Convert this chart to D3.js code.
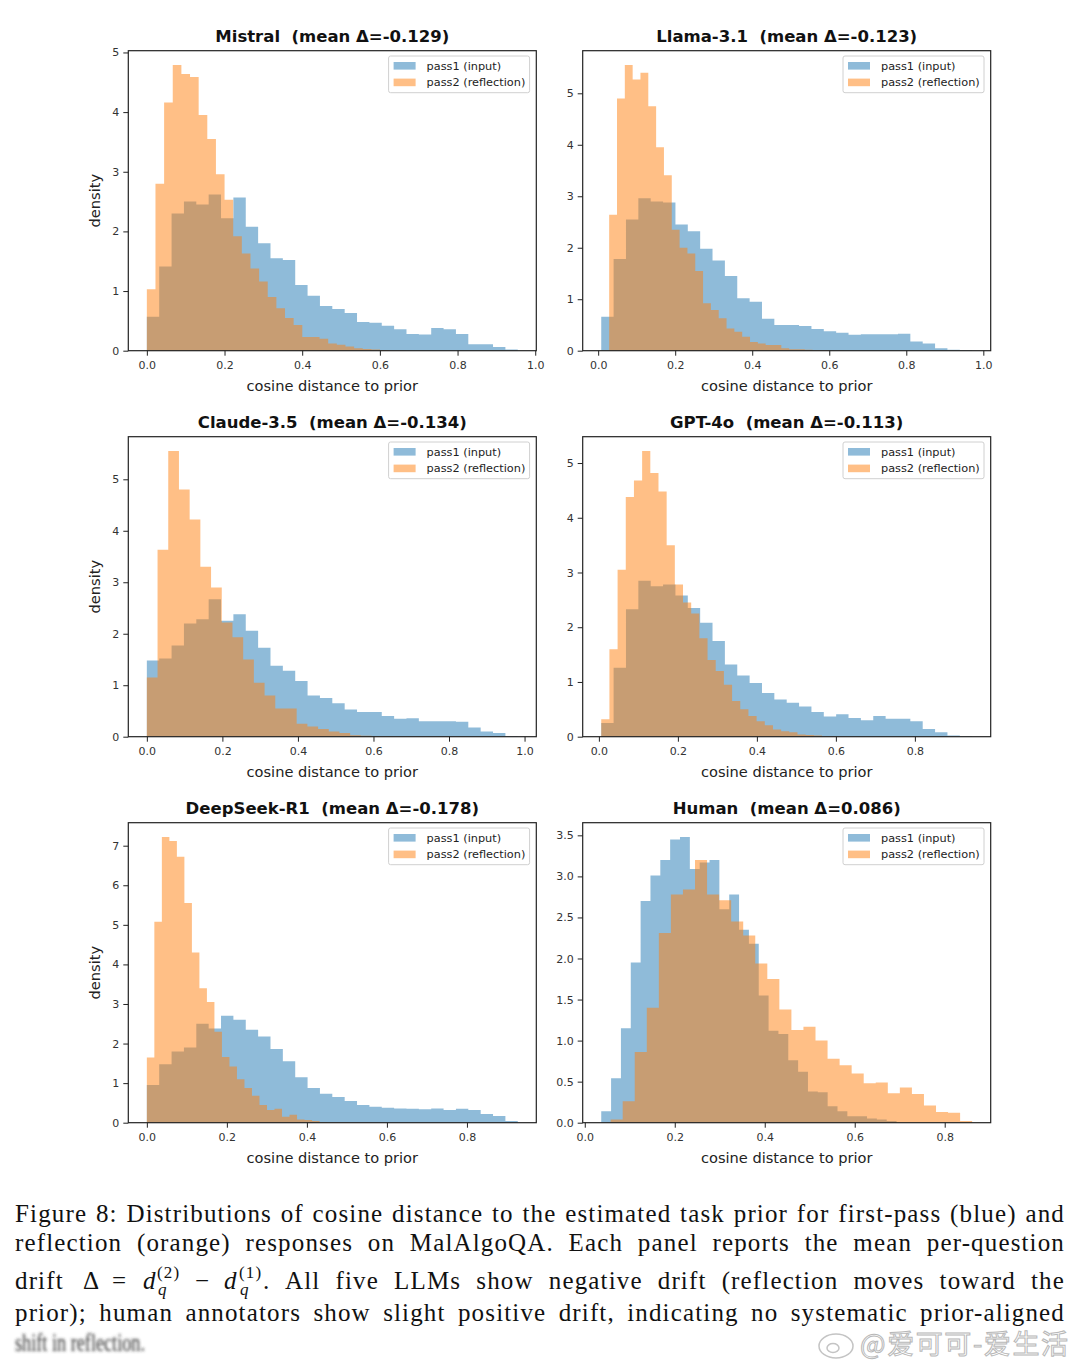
<!DOCTYPE html>
<html>
<head>
<meta charset="utf-8">
<script src="https://cdn.jsdelivr.net/npm/d3@7"></script>
<style>
  html, body { margin: 0; padding: 0; background: #fff; }
  svg { display: block; }
</style>
</head>
<body>
<svg id="fig" width="1080" height="1368"></svg>
<script>
// ---- data ----
var models = ["Mistral", "Llama-3.1", "Claude-3.5", "GPT-4o", "DeepSeek-R1", "Human"];
var meanDelta = ["-0.129", "-0.123", "-0.134", "-0.113", "-0.178", "0.086"];
var seriesNames = ["pass1 (input)", "pass2 (reflection)"];

// [first bin edge, last bin edge] of each histogram (30 bins)
var pass1Range = [[0.0, 0.955], [0.008, 0.971], [0.0, 0.982], [0.006, 0.945], [0.0, 0.927], [0.0366, 0.693]];
var pass2Range = [[0.0, 0.667], [0.0286, 0.638], [0.0, 0.85], [0.006, 0.627], [0.0, 0.563], [0.0575, 0.861]];

var pass1Density = [
  [0.57,1.41,2.30,2.50,2.45,2.62,2.22,2.57,2.08,1.80,1.55,1.52,1.10,0.92,0.75,0.70,0.63,0.48,0.47,0.42,0.36,0.28,0.27,0.38,0.36,0.28,0.11,0.11,0.06,0.02],
  [0.66,1.78,2.55,2.96,2.90,2.88,2.45,2.32,1.98,1.75,1.45,1.02,0.95,0.62,0.50,0.50,0.48,0.42,0.38,0.35,0.31,0.32,0.32,0.32,0.33,0.18,0.14,0.05,0.02,0.01],
  [1.48,1.52,1.77,2.20,2.28,2.67,2.25,2.38,2.06,1.73,1.38,1.28,1.08,0.80,0.75,0.65,0.53,0.48,0.48,0.40,0.35,0.36,0.30,0.30,0.30,0.29,0.18,0.10,0.07,0.01],
  [0.25,1.26,2.33,2.85,2.75,2.78,2.58,2.35,2.08,1.75,1.32,1.12,0.98,0.80,0.68,0.62,0.55,0.45,0.37,0.41,0.34,0.30,0.38,0.33,0.33,0.28,0.14,0.08,0.02,0.01],
  [0.95,1.48,1.80,1.90,2.50,2.38,2.70,2.60,2.35,2.18,1.86,1.55,1.15,0.88,0.73,0.65,0.55,0.45,0.40,0.38,0.36,0.35,0.34,0.36,0.32,0.35,0.32,0.22,0.17,0.04],
  [0.14,0.54,1.15,1.95,2.70,3.01,3.20,3.45,3.48,3.09,3.17,3.20,2.60,2.78,2.35,2.18,1.55,1.12,1.08,0.76,0.62,0.38,0.37,0.20,0.14,0.08,0.08,0.05,0.04,0.02]
];
var pass2Density = [
  [1.03,2.80,4.16,4.79,4.64,4.59,3.95,3.55,2.96,2.53,1.92,1.63,1.38,1.16,0.90,0.71,0.55,0.43,0.23,0.23,0.20,0.12,0.10,0.07,0.04,0.03,0.02,0.01,0.005,0.005],
  [2.64,4.90,5.55,5.27,5.40,4.75,3.95,3.41,2.35,2.00,1.89,1.55,0.92,0.79,0.63,0.43,0.37,0.27,0.17,0.14,0.11,0.11,0.05,0.03,0.03,0.02,0.01,0.01,0.005,0.005],
  [1.15,3.63,5.55,4.80,4.22,3.30,2.90,2.22,1.93,1.50,1.05,0.80,0.55,0.55,0.25,0.20,0.15,0.10,0.07,0.03,0.02,0.01,0.01,0.005,0.005,0.005,0.003,0.003,0.003,0.005],
  [0.32,1.60,3.05,4.38,4.68,5.22,4.82,4.48,3.50,2.78,2.45,2.25,1.80,1.40,1.20,0.95,0.65,0.50,0.38,0.28,0.21,0.13,0.10,0.08,0.04,0.03,0.02,0.01,0.01,0.005],
  [1.65,5.08,7.22,7.12,6.72,5.55,4.30,3.40,3.05,2.30,1.66,1.42,1.10,0.88,0.68,0.45,0.32,0.35,0.15,0.20,0.08,0.07,0.04,0.02,0.01,0.01,0.01,0.005,0.005,0.005],
  [0.04,0.26,0.86,1.40,2.31,2.78,2.84,3.20,2.78,2.71,2.45,2.28,1.94,1.75,1.38,1.13,1.17,1.00,0.78,0.70,0.60,0.48,0.49,0.36,0.43,0.35,0.21,0.13,0.12,0.02]
];

var xTickValues = [0, 0.2, 0.4, 0.6, 0.8, 1.0];
var yTickStep = [1, 1, 1, 1, 1, 0.5];

var captionLines = [
  "Figure 8: Distributions of cosine distance to the estimated task prior for first-pass (blue) and",
  "reflection (orange) responses on MalAlgoQA. Each panel reports the mean per-question",
  "All five LLMs show negative drift (reflection moves toward the",
  "prior); human annotators show slight positive drift, indicating no systematic prior-aligned",
  "shift in reflection."
];

// ---- layout ----
var colX = [128.3, 582.7];
var rowY = [50.7, 436.7, 822.7];
var aw = 408, ah = 300;
var colors = ["#1f77b4", "#ff7f0e"];
var sans = "'DejaVu Sans', sans-serif";
var serif = "'Liberation Serif', 'DejaVu Serif', serif";

var svg = d3.select("#fig");

models.forEach(function(name, i) {
    var col = i % 2, row = Math.floor(i / 2);
    var g = svg.append("g").attr("transform", "translate(" + colX[col] + "," + rowY[row] + ")");

    var ranges = [pass1Range[i], pass2Range[i]];
    var dens = [pass1Density[i], pass2Density[i]];
    var lo = d3.min(ranges, function(r) { return r[0]; });
    var hi = d3.max(ranges, function(r) { return r[1]; });
    var pad = 0.05 * (hi - lo);
    var x = d3.scaleLinear().domain([lo - pad, hi + pad]).range([0, aw]);
    var ymax = 1.05 * d3.max(dens.map(function(d) { return d3.max(d); }));
    var y = d3.scaleLinear().domain([0, ymax]).range([ah, 0]);

    // histograms as step areas (blue first, orange on top)
    var area = d3.area()
        .curve(d3.curveStepAfter)
        .x(function(d) { return x(d[0]); })
        .y0(y(0))
        .y1(function(d) { return y(d[1]); });

    [0, 1].forEach(function(s) {
        var r = ranges[s], vals = dens[s];
        var w = (r[1] - r[0]) / vals.length;
        var pts = vals.map(function(v, k) { return [r[0] + k * w, v]; });
        pts.push([r[1], vals[vals.length - 1]]);
        g.append("path")
            .datum(pts)
            .attr("fill", colors[s])
            .attr("fill-opacity", 0.5)
            .attr("d", area);
    });

    // axes
    var xt = xTickValues.filter(function(t) { return t >= x.domain()[0] && t <= x.domain()[1]; });
    var xAxis = g.append("g")
        .attr("transform", "translate(0," + ah + ")")
        .call(d3.axisBottom(x).tickValues(xt).tickFormat(d3.format(".1f"))
            .tickSizeInner(5).tickSizeOuter(0).tickPadding(6));

    var step = yTickStep[i];
    var yt = d3.range(0, ymax + 1e-9, step);
    var yAxis = g.append("g")
        .call(d3.axisLeft(y).tickValues(yt).tickFormat(d3.format(step < 1 ? ".1f" : "d"))
            .tickSizeInner(5).tickSizeOuter(0).tickPadding(4));

    [xAxis, yAxis].forEach(function(a) {
        a.select(".domain").remove();
        a.selectAll("line").attr("stroke", "#222").attr("stroke-width", 1);
        a.selectAll("text")
            .attr("font-family", sans)
            .attr("font-size", 11)
            .attr("fill", "#333");
    });

    // frame
    g.append("rect")
        .attr("width", aw).attr("height", ah)
        .attr("fill", "none")
        .attr("stroke", "#222")
        .attr("stroke-width", 1.2);

    // title
    g.append("text")
        .attr("x", aw / 2).attr("y", -9)
        .attr("text-anchor", "middle")
        .attr("font-family", sans)
        .attr("font-weight", "bold")
        .attr("font-size", 16.5)
        .attr("fill", "#111")
        .style("white-space", "pre")
        .text(name + "  (mean \u0394=" + meanDelta[i] + ")");

    // x label
    g.append("text")
        .attr("x", aw / 2).attr("y", ah + 40)
        .attr("text-anchor", "middle")
        .attr("font-family", sans)
        .attr("font-size", 14.6)
        .attr("fill", "#222")
        .text("cosine distance to prior");

    if (col === 0) {
        g.append("text")
            .attr("transform", "translate(-28," + (ah / 2) + ") rotate(-90)")
            .attr("text-anchor", "middle")
            .attr("font-family", sans)
            .attr("font-size", 14.6)
            .attr("fill", "#222")
            .text("density");
    }

    // legend
    var lg = g.append("g").attr("transform", "translate(" + (aw - 147.7) + ",5.3)");
    lg.append("rect")
        .attr("width", 141).attr("height", 36.7)
        .attr("rx", 2)
        .attr("fill", "#fff").attr("fill-opacity", 0.8)
        .attr("stroke", "#d0d0d0").attr("stroke-width", 1);
    seriesNames.forEach(function(sn, s) {
        lg.append("rect")
            .attr("x", 5).attr("y", 6 + s * 16.6)
            .attr("width", 22).attr("height", 7.6)
            .attr("fill", colors[s]).attr("fill-opacity", 0.5);
        lg.append("text")
            .attr("x", 38).attr("y", 13.8 + s * 16.6)
            .attr("font-family", sans)
            .attr("font-size", 11.3)
            .attr("fill", "#222")
            .text(sn);
    });
});

// ---- caption ----
var capSize = 25;
var left = 15, right = 1065;

function capText(str, x0, yb) {
    return svg.append("text")
        .attr("x", x0).attr("y", yb)
        .attr("font-family", serif)
        .attr("font-size", capSize)
        .attr("fill", "#111")
        .text(str);
}

// letter spacing taken from the fullest line, word spacing fills the rest
var probe = capText(captionLines[0], left, -100);
var w0 = probe.node().getComputedTextLength();
var letterSp = 0.85 * (right - left - w0) / captionLines[0].length;
probe.remove();

function justifyLine(str, x0, x1, yb) {
    var t = capText(str, x0, yb).style("letter-spacing", letterSp + "px");
    var w = t.node().getComputedTextLength();
    var spaces = (str.match(/ /g) || []).length;
    if (spaces > 0) t.style("word-spacing", ((x1 - x0 - w) / spaces) + "px");
    return t;
}

justifyLine(captionLines[0], left, right, 1222);
justifyLine(captionLines[1], left, right, 1251);
justifyLine(captionLines[3], left, right, 1321);

// line 3: math part then justified text
var b3 = 1289;
function put(str, xx, yy, size, italic) {
    svg.append("text")
        .attr("x", xx).attr("y", yy)
        .attr("font-family", serif)
        .attr("font-size", size)
        .attr("font-style", italic ? "italic" : "normal")
        .attr("fill", "#111")
        .style("letter-spacing", letterSp + "px")
        .text(str);
}
put("drift", left, b3, capSize, false);
put("\u0394", 83, b3, capSize, false);
put("=", 112, b3, capSize, false);
put("d", 143, b3, capSize, true);
put("(2)", 157, b3 - 11, 17, false);
put("q", 158, b3 + 6, 17, true);
put("\u2212", 195, b3, capSize, false);
put("d", 224, b3, capSize, true);
put("(1)", 239, b3 - 11, 17, false);
put("q", 240, b3 + 6, 17, true);
put(".", 263, b3, capSize, false);
justifyLine(captionLines[2], 285, right, b3);

// last line (blurred in the source)
var defs = svg.append("defs");
defs.append("filter").attr("id", "blurry")
    .append("feGaussianBlur").attr("stdDeviation", 1.6);
svg.append("text")
    .attr("x", left).attr("y", 1351)
    .attr("font-family", serif)
    .attr("font-size", capSize)
    .attr("fill", "#333")
    .attr("textLength", 130)
    .attr("lengthAdjust", "spacingAndGlyphs")
    .attr("filter", "url(#blurry)")
    .text(captionLines[4]);

// watermark
var wm = svg.append("g");
wm.append("ellipse")
    .attr("cx", 836).attr("cy", 1346).attr("rx", 17).attr("ry", 12)
    .attr("fill", "#fff").attr("stroke", "#c4c4c4").attr("stroke-width", 1.5);
wm.append("ellipse")
    .attr("cx", 833).attr("cy", 1348).attr("rx", 6).attr("ry", 4.5)
    .attr("fill", "none").attr("stroke", "#c4c4c4").attr("stroke-width", 1.5);
wm.append("text")
    .attr("x", 860).attr("y", 1354)
    .attr("font-family", "'Noto Sans CJK SC', sans-serif")
    .attr("font-size", 27)
    .attr("fill", "#fff")
    .attr("stroke", "#b8b8b8")
    .attr("stroke-width", 1)
    .attr("textLength", 208)
    .text("@爱可可-爱生活");
</script>
</body>
</html>
